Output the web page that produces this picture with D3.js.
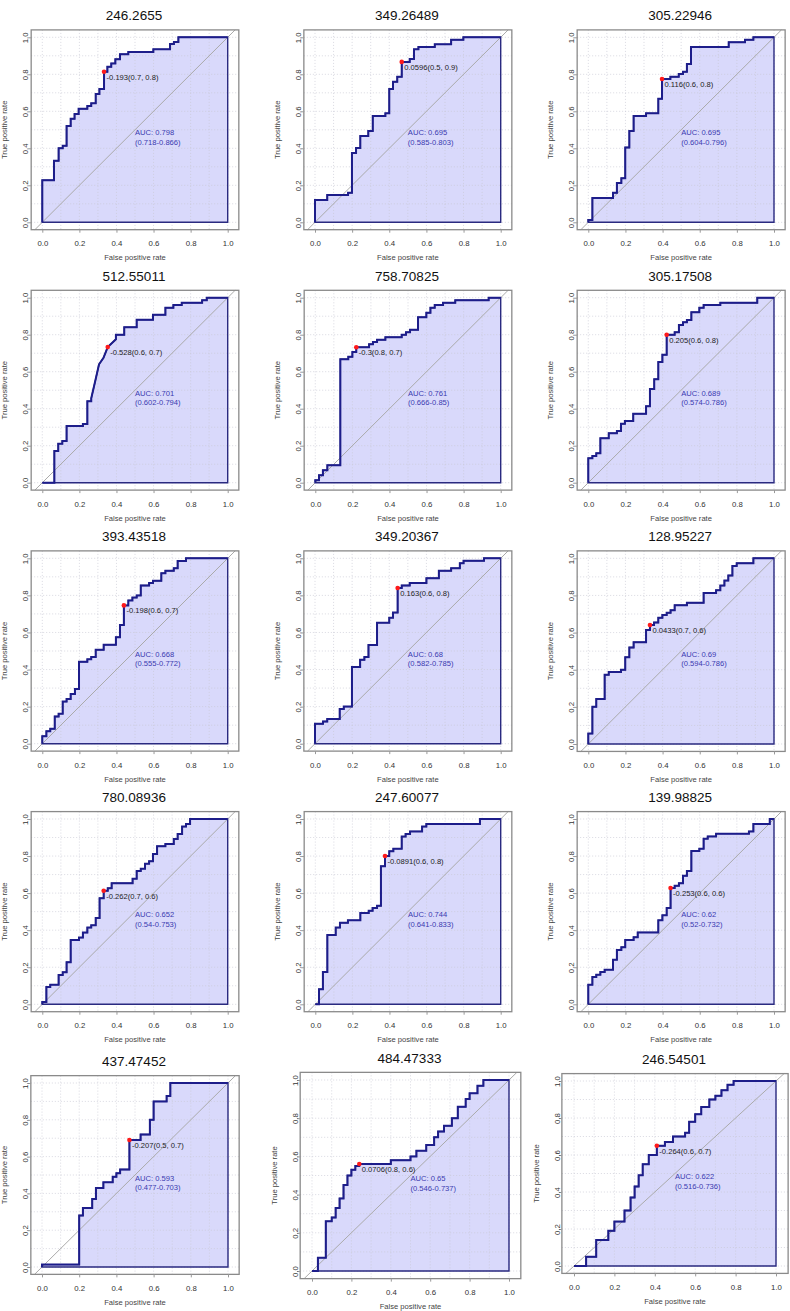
<!DOCTYPE html>
<html><head><meta charset="utf-8">
<script src="https://cdn.jsdelivr.net/npm/d3@7"></script>
<style>body{margin:0;background:#fff}svg{display:block}text{font-family:"Liberation Sans",Arial,sans-serif}</style>
</head><body><svg id="c" width="790" height="1311"></svg>
<script>
// ---- data ----
const titles = ["246.2655","349.26489","305.22946","512.55011","758.70825","305.17508","393.43518","349.20367","128.95227","780.08936","247.60077","139.98825","437.47452","484.47333","246.54501"];
const aucValues = ["0.798","0.695","0.695","0.701","0.761","0.689","0.668","0.68","0.69","0.652","0.744","0.62","0.593","0.65","0.622"];
const aucCI = ["0.718-0.866","0.585-0.803","0.604-0.796","0.602-0.794","0.666-0.85","0.574-0.786","0.555-0.772","0.582-0.785","0.594-0.786","0.54-0.753","0.641-0.833","0.52-0.732","0.477-0.703","0.546-0.737","0.516-0.736"];
const thresholdLabels = ["-0.193(0.7, 0.8)","0.0596(0.5, 0.9)","0.116(0.6, 0.8)","-0.528(0.6, 0.7)","-0.3(0.8, 0.7)","0.205(0.6, 0.8)","-0.198(0.6, 0.7)","0.163(0.6, 0.8)","0.0433(0.7, 0.6)","-0.262(0.7, 0.6)","-0.0891(0.6, 0.8)","-0.253(0.6, 0.6)","-0.207(0.5, 0.7)","0.0706(0.8, 0.6)","-0.264(0.6, 0.7)"];
const thresholdPoints = [[0.333,0.814],[0.467,0.867],[0.397,0.775],[0.353,0.733],[0.221,0.732],[0.422,0.8],[0.44,0.746],[0.445,0.84],[0.332,0.641],[0.331,0.613],[0.376,0.8],[0.443,0.628],[0.47,0.69],[0.24,0.56],[0.41,0.65]];
const tickValues = [0,0.2,0.4,0.6,0.8,1.0];
const gridValues = [0,0.1,0.2,0.3,0.4,0.5,0.6,0.7,0.8,0.9,1.0];
// ROC steps: [fpr, tpr] = move right to fpr then up to tpr; third element 1 = straight segment
const roc1 = [[0,0.227],[0.063,0.333],[0.088,0.4],[0.11,0.414],[0.131,0.52],[0.153,0.56],[0.174,0.585],[0.196,0.614],[0.243,0.629],[0.264,0.643],[0.288,0.694],[0.308,0.72],[0.333,0.814],[0.351,0.841],[0.372,0.859],[0.394,0.881],[0.419,0.908],[0.464,0.921],[0.599,0.935],[0.689,0.964],[0.71,0.975],[0.734,1],[1,1]];
const roc2 = [[0,0.121],[0.066,0.148],[0.178,0.16],[0.199,0.375],[0.221,0.402],[0.244,0.467],[0.287,0.494],[0.311,0.575],[0.379,0.589],[0.4,0.721],[0.42,0.76],[0.443,0.787],[0.467,0.867],[0.51,0.883],[0.533,0.935],[0.557,0.948],[0.645,0.962],[0.733,0.987],[0.799,1],[1,1]];
const roc3 = [[0,0.013],[0.022,0.132],[0.133,0.16],[0.154,0.213],[0.178,0.238],[0.199,0.404],[0.221,0.494],[0.244,0.575],[0.311,0.589],[0.377,0.668],[0.397,0.775],[0.442,0.787],[0.487,0.802],[0.51,0.814],[0.531,0.856],[0.553,0.948],[0.756,0.973],[0.844,0.987],[0.889,1],[1,1]];
const roc4 = [[0.065,0.171],[0.086,0.211],[0.108,0.225],[0.131,0.306],[0.219,0.317],[0.243,0.44],[0.264,0.456],[0.288,0.56,1],[0.306,0.64,1],[0.33,0.675,1],[0.353,0.733,1],[0.397,0.775,1],[0.397,0.8],[0.442,0.84],[0.509,0.881],[0.597,0.908],[0.664,0.946],[0.707,0.96],[0.752,0.973],[0.862,0.986],[0.887,1],[1,1]];
const roc5 = [[0,0.013],[0.02,0.04],[0.041,0.067],[0.065,0.094],[0.135,0.667],[0.178,0.681],[0.2,0.706],[0.221,0.732],[0.29,0.748],[0.311,0.76],[0.333,0.773],[0.378,0.786],[0.466,0.8],[0.489,0.813],[0.511,0.827],[0.554,0.894],[0.599,0.919],[0.621,0.946],[0.644,0.96],[0.689,0.973],[0.755,0.986],[0.935,1],[1,1]];
const roc6 = [[0,0.132],[0.022,0.144],[0.043,0.159],[0.065,0.24],[0.11,0.267],[0.154,0.279],[0.176,0.319],[0.197,0.333],[0.242,0.373],[0.311,0.413],[0.332,0.506],[0.355,0.559],[0.377,0.652],[0.399,0.692],[0.422,0.8],[0.465,0.813],[0.488,0.852],[0.51,0.867],[0.531,0.879],[0.555,0.921],[0.598,0.946],[0.621,0.96],[0.711,0.973],[0.91,1],[1,1]];
const roc7 = [[0,0.04],[0.022,0.067],[0.043,0.081],[0.067,0.147],[0.088,0.162],[0.11,0.227],[0.131,0.241],[0.153,0.268],[0.176,0.295],[0.198,0.442],[0.243,0.455],[0.264,0.468],[0.288,0.507],[0.331,0.534],[0.397,0.574],[0.419,0.64],[0.44,0.746],[0.464,0.773],[0.486,0.788],[0.509,0.8],[0.531,0.853],[0.576,0.867],[0.597,0.879],[0.642,0.919],[0.664,0.933],[0.709,0.946],[0.73,0.986],[0.775,1],[1,1]];
const roc8 = [[0,0.107],[0.043,0.12],[0.066,0.133],[0.133,0.187],[0.155,0.2],[0.199,0.414],[0.243,0.453],[0.266,0.467],[0.288,0.533],[0.334,0.653],[0.4,0.68],[0.42,0.707],[0.445,0.84],[0.467,0.853],[0.51,0.867],[0.6,0.893],[0.667,0.933],[0.733,0.947],[0.78,0.973],[0.8,0.987],[0.91,1],[1,1]];
const roc9 = [[0,0.056],[0.022,0.2],[0.043,0.242],[0.088,0.373],[0.11,0.388],[0.176,0.4],[0.199,0.467],[0.221,0.52],[0.244,0.548],[0.311,0.614],[0.332,0.641],[0.354,0.654],[0.377,0.68],[0.399,0.695],[0.422,0.707],[0.443,0.72],[0.465,0.747],[0.531,0.76],[0.621,0.813],[0.688,0.828],[0.711,0.853],[0.733,0.88],[0.754,0.907],[0.776,0.959],[0.799,0.973],[0.889,1],[1,1]];
const roc10 = [[0,0.013],[0.022,0.094],[0.043,0.106],[0.088,0.158],[0.11,0.173],[0.131,0.227],[0.153,0.347],[0.198,0.36],[0.219,0.387],[0.243,0.414],[0.264,0.426],[0.288,0.466],[0.309,0.572],[0.331,0.613],[0.353,0.626],[0.374,0.653],[0.487,0.678],[0.509,0.72],[0.531,0.732],[0.554,0.759],[0.576,0.772],[0.597,0.811],[0.619,0.853],[0.664,0.865],[0.709,0.892],[0.73,0.919],[0.754,0.959],[0.775,0.973],[0.797,1],[1,1]];
const roc11 = [[0.02,0.081],[0.041,0.174],[0.065,0.374],[0.11,0.414],[0.133,0.44],[0.176,0.453],[0.243,0.493],[0.288,0.505],[0.309,0.52],[0.333,0.532],[0.354,0.745],[0.376,0.8],[0.399,0.826],[0.421,0.84],[0.466,0.905],[0.487,0.919],[0.511,0.933],[0.576,0.959],[0.599,0.973],[0.888,1],[1,1]];
const roc12 = [[0,0.106],[0.022,0.147],[0.043,0.16],[0.065,0.174],[0.088,0.187],[0.133,0.241],[0.154,0.293],[0.178,0.308],[0.199,0.347],[0.244,0.362],[0.266,0.388],[0.377,0.453],[0.399,0.48],[0.422,0.52],[0.443,0.628],[0.465,0.64],[0.488,0.653],[0.51,0.694],[0.531,0.72],[0.555,0.827],[0.598,0.84],[0.621,0.894],[0.643,0.906],[0.688,0.921],[0.865,0.933],[0.889,0.973],[0.977,1],[1,1]];
const roc13 = [[0,0.013],[0.2,0.28],[0.22,0.32],[0.27,0.37],[0.29,0.43],[0.33,0.46],[0.38,0.49],[0.4,0.51],[0.42,0.53],[0.47,0.69],[0.53,0.72],[0.58,0.8],[0.6,0.9],[0.67,0.93],[0.69,1],[1,1]];
const roc14 = [[0.03,0.07],[0.07,0.26],[0.1,0.28],[0.12,0.33],[0.14,0.38],[0.16,0.45],[0.18,0.5],[0.2,0.53],[0.22,0.55],[0.24,0.56],[0.4,0.58],[0.5,0.6],[0.53,0.63],[0.58,0.66],[0.62,0.7],[0.64,0.73],[0.67,0.76],[0.71,0.8],[0.74,0.86],[0.78,0.9],[0.8,0.93],[0.84,0.97],[0.87,1],[1,1]];
const roc15 = [[0.06,0.05],[0.11,0.14],[0.17,0.19],[0.2,0.24],[0.25,0.3],[0.28,0.37],[0.3,0.43],[0.32,0.49],[0.34,0.55],[0.37,0.6],[0.41,0.65],[0.45,0.67],[0.49,0.7],[0.55,0.72],[0.57,0.78],[0.6,0.82],[0.63,0.86],[0.67,0.9],[0.7,0.92],[0.73,0.95],[0.76,0.98],[0.79,1],[1,1]];
const curves = [roc1,roc2,roc3,roc4,roc5,roc6,roc7,roc8,roc9,roc10,roc11,roc12,roc13,roc14,roc15];

// ---- layout: [x(0), x(1), y(1), y(0)] in px ----
const layout = [
 [42.3,227.7,37.3,222.3],[315,500.7,37.3,222.3],[588.3,774,37.3,222.3],
 [42.3,227.7,297.7,482.7],[315.3,500.7,297.7,482.7],[588.3,774,297.7,482.7],
 [42.3,227.7,558.3,743.7],[315,500.7,558.3,743.7],[588.3,774,558.3,744],
 [42.3,227.7,819,1004.3],[315.3,500.7,819,1004.3],[588.3,774,819,1004.3],
 [42,228,1083,1267],[312,509,1080,1271],[574,776,1081,1266]
];

const svg = d3.select("#c");
const lineColor = "#1d1d8a", fillColor = "#d9d9fb";

function vertices(steps){
  const v = [[0,0]];
  let py = 0;
  steps.forEach(s => {
    if (s[2]) v.push([s[0], s[1]]);
    else { v.push([s[0], py]); v.push([s[0], s[1]]); }
    py = s[1];
  });
  return v;
}

curves.forEach((steps, i) => {
  const [x0, x1, yT, yB] = layout[i];
  const x = d3.scaleLinear().domain([0,1]).range([x0,x1]);
  const y = d3.scaleLinear().domain([0,1]).range([yB,yT]);
  const g = svg.append("g");
  const bx0 = x(-0.06), bx1 = x(1.06), by0 = y(-0.04), by1 = y(1.04);
  const pts = vertices(steps);
  const line = d3.line().x(d => x(d[0])).y(d => y(d[1]));
  const polyD = line(pts.concat([[1,0],[0,0]])) + "Z";

  // AUC polygon fill
  g.append("path").attr("d", polyD).attr("fill", fillColor).attr("stroke", "none");

  // grid
  g.selectAll(".gv").data(gridValues).join("line")
    .attr("x1", d => x(d)).attr("x2", d => x(d)).attr("y1", by1).attr("y2", by0)
    .attr("stroke", "#c8c8d4").attr("stroke-width", 0.7).attr("stroke-dasharray", "1,2");
  g.selectAll(".gh").data(gridValues).join("line")
    .attr("y1", d => y(d)).attr("y2", d => y(d)).attr("x1", bx0).attr("x2", bx1)
    .attr("stroke", "#c8c8d4").attr("stroke-width", 0.7).attr("stroke-dasharray", "1,2");

  // diagonal
  g.append("line").attr("x1", x(-0.04)).attr("y1", y(-0.04)).attr("x2", x(1.04)).attr("y2", y(1.04))
    .attr("stroke", "#aaaaaa").attr("stroke-width", 1);

  // AUC polygon outline
  g.append("path").attr("d", polyD).attr("fill", "none").attr("stroke", "#2a2a80").attr("stroke-width", 1.4);

  // ROC curve
  g.append("path").attr("d", line(pts)).attr("fill", "none")
    .attr("stroke", lineColor).attr("stroke-width", 2).attr("stroke-linejoin", "miter");

  // box
  g.append("rect").attr("x", bx0).attr("y", by1).attr("width", bx1 - bx0).attr("height", by0 - by1)
    .attr("fill", "none").attr("stroke", "#8a8a8a").attr("stroke-width", 1.3);

  // axes
  const fmt = d3.format(".1f");
  const ax = g.append("g").attr("transform", `translate(0,${by0})`)
    .call(d3.axisBottom(x).tickValues(tickValues).tickFormat(fmt).tickSize(3).tickPadding(8));
  ax.select(".domain").remove();
  ax.selectAll("line").attr("stroke", "#999");
  ax.selectAll("text").attr("font-size", 7.8).attr("fill", "#333").attr("font-family", "Liberation Sans, Arial, sans-serif");
  const ay = g.append("g").attr("transform", `translate(${bx0},0)`)
    .call(d3.axisLeft(y).tickValues(tickValues).tickFormat(fmt).tickSize(3).tickPadding(3));
  ay.select(".domain").remove();
  ay.selectAll("line").attr("stroke", "#999");
  ay.selectAll("text").attr("font-size", 7.8).attr("fill", "#333").attr("font-family", "Liberation Sans, Arial, sans-serif")
    .attr("text-anchor", "middle").attr("dy", 0).attr("x", 0)
    .attr("transform", function(d){ return `translate(${-(bx0 - x0) - 14},0) rotate(-90)`; });

  // axis labels
  g.append("text").attr("x", (x0 + x1) / 2).attr("y", yB + 38).attr("text-anchor", "middle")
    .attr("font-size", 7.6).attr("fill", "#444").text("False positive rate");
  g.append("text").attr("transform", `translate(${x0 - 35},${(yT + yB) / 2}) rotate(-90)`)
    .attr("text-anchor", "middle").attr("font-size", 7.6).attr("fill", "#444").text("True positive rate");

  // title
  g.append("text").attr("x", (x0 + x1) / 2 - 1).attr("y", yT - 17).attr("text-anchor", "middle")
    .attr("font-size", 13.5).attr("fill", "#111").text(titles[i]);

  // AUC text
  g.append("text").attr("x", x(0.5)).attr("y", y(0.47)).attr("font-size", 7.6).attr("fill", "#3a3ab0")
    .text("AUC: " + aucValues[i]);
  g.append("text").attr("x", x(0.5)).attr("y", y(0.47) + 9.6).attr("font-size", 7.6).attr("fill", "#3a3ab0")
    .text("(" + aucCI[i] + ")");

  // threshold point
  const tp = thresholdPoints[i];
  g.append("circle").attr("cx", x(tp[0])).attr("cy", y(tp[1])).attr("r", 2.3).attr("fill", "#ff1a1a");
  g.append("text").attr("x", x(tp[0]) + 2.5).attr("y", y(tp[1]) + 7.8).attr("font-size", 7.6).attr("fill", "#222")
    .text(thresholdLabels[i]);
});
</script></body></html>
